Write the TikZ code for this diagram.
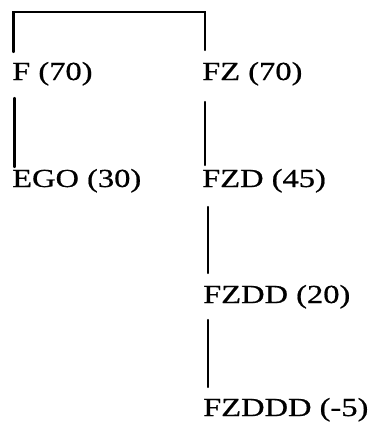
\documentclass[tikz,border=0pt]{standalone}
\usepackage{fontspec}
\setmainfont{Liberation Serif}
\newfontfamily\lblfont[FakeBold=0.6]{Liberation Serif}
\usetikzlibrary{calc}
\tikzset{
  lbl/.style={anchor=base west, inner sep=0pt, font=\lblfont\fontsize{26}{30}\selectfont},
  conn/.style={line width=2.3pt, line cap=round}
}
\newcommand{\wide}[1]{\scalebox{1.25}[1]{#1}}
\begin{document}
\begin{tikzpicture}[x=1pt,y=1pt]
\useasboundingbox (0,0) rectangle (378,-431);
\node[lbl] (f) at (12,-80) {\wide{F (70)}};
\node[lbl] (fz) at (202,-80) {\wide{FZ (70)}};
\node[lbl] (ego) at (12,-187) {\wide{EGO (30)}};
\node[lbl] (fzd) at (202,-187) {\wide{FZD (45)}};
\node[lbl] (fzdd) at (203,-303) {\wide{FZDD (20)}};
\node[lbl] (fzddd) at (203,-416) {\wide{FZDDD (-5)}};
\draw[conn] ([shift={(1.5pt,28pt)}]f.base west) |- ([shift={(3pt,68pt)}]fz.base west) -- ([shift={(3pt,30pt)}]fz.base west);
\draw[conn] ([shift={(2.5pt,-18pt)}]f.base west) -- ([shift={(2.5pt,20pt)}]ego.base west);
\draw[conn] ([shift={(3pt,-22pt)}]fz.base west) -- ([shift={(3pt,22pt)}]fzd.base west);
\draw[conn] ([shift={(6pt,-20pt)}]fzd.base west) -- ([shift={(5pt,30pt)}]fzdd.base west);
\draw[conn] ([shift={(5pt,-17pt)}]fzdd.base west) -- ([shift={(5pt,29pt)}]fzddd.base west);
\end{tikzpicture}
\end{document}
